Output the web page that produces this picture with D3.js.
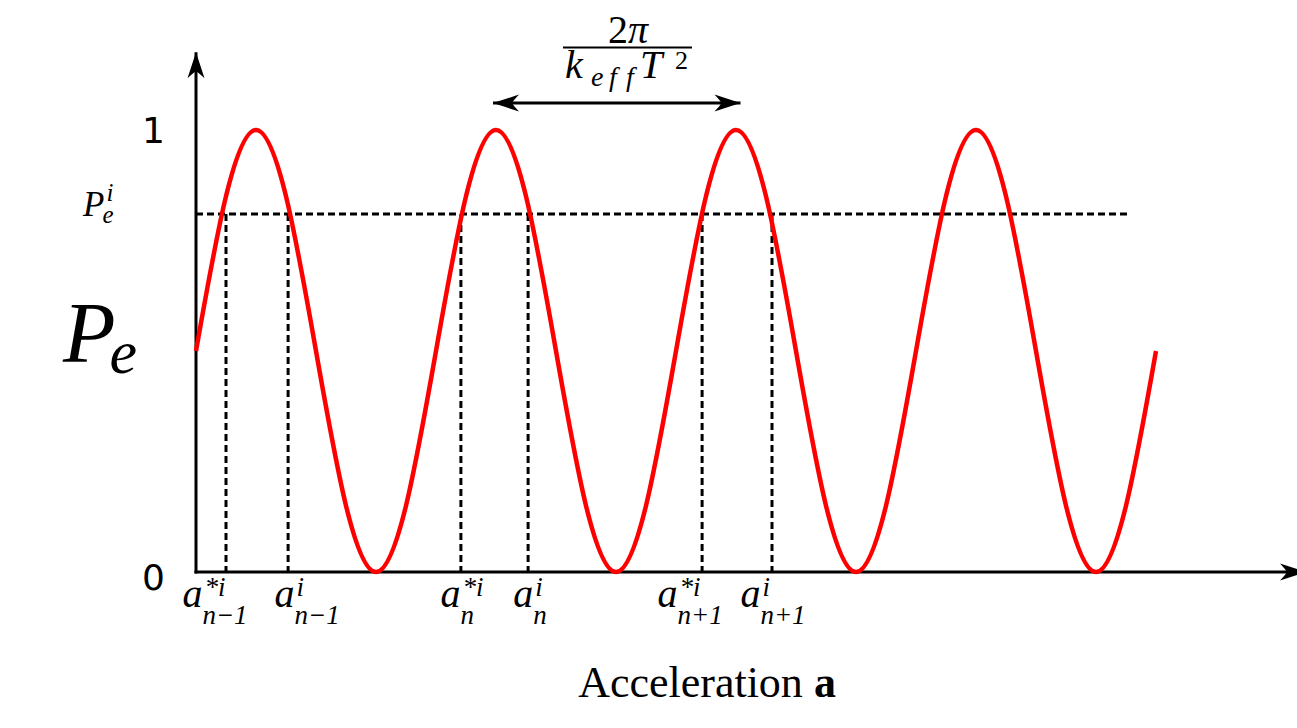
<!DOCTYPE html>
<html>
<head>
<meta charset="utf-8">
<script src="https://cdn.jsdelivr.net/npm/d3@7"></script>
<style>
  body { margin: 0; background: #ffffff; }
  svg { display: block; }
  .math { font-family: "Liberation Serif", "DejaVu Serif", serif; font-style: italic; fill: #000; }
  .rm { font-family: "Liberation Serif", "DejaVu Serif", serif; fill: #000; }
  .tick { font-family: "DejaVu Sans", sans-serif; fill: #000; }
</style>
</head>
<body>
<div id="chart"></div>
<script>
// acceleration (arbitrary units, one fringe = 8 units) and transition probability
var accel = [0, 1, 2, 3, 4, 5, 6, 7, 8, 9, 10, 11, 12, 13, 14, 15, 16,
             17, 18, 19, 20, 21, 22, 23, 24, 25, 26, 27, 28, 29, 30, 31, 32];
var pe = [0.5, 0.85, 1, 0.85, 0.5, 0.15, 0, 0.15,
          0.5, 0.85, 1, 0.85, 0.5, 0.15, 0, 0.15,
          0.5, 0.85, 1, 0.85, 0.5, 0.15, 0, 0.15,
          0.5, 0.85, 1, 0.85, 0.5, 0.15, 0, 0.15, 0.5];

// measured level and the accelerations where it is crossed
var levelPe = 0.81;
var levelEnd = 31.1;
var crossings = [1.0, 3.07, 8.83, 11.07, 16.87, 19.2];
var crossSup = ["*i", "i", "*i", "i", "*i", "i"];
var crossSub = ["n\u22121", "n\u22121", "n", "n", "n+1", "n+1"];

// period arrow (peak to peak)
var periodArrow = [9.9, 18.15];
var periodArrowPe = 1.061;

var yTicks = [0, 1];
var xMax = 37;
var yMax = 1.176;

var W = 1297, H = 728;
var x0 = 196, y0 = 572;
var svg = d3.select("#chart").append("svg").attr("width", W).attr("height", H);

var xscale = d3.scaleLinear().domain([0, 32]).range([x0, 1156]);
var yscale = d3.scaleLinear().domain([0, 1]).range([y0, 130]);

var defs = svg.append("defs");
defs.append("marker").attr("id", "head")
    .attr("markerUnits", "userSpaceOnUse")
    .attr("viewBox", "-28 -10 30 20")
    .attr("refX", 0).attr("refY", 0)
    .attr("markerWidth", 30).attr("markerHeight", 20)
    .attr("orient", "auto-start-reverse")
    .append("path")
    .attr("d", "M0,0 L-26,-8.5 Q-20,-2 -19,0 Q-20,2 -26,8.5 Z")
    .attr("fill", "#000");

// dashed guide lines
svg.append("line")
    .attr("x1", xscale(0)).attr("x2", xscale(levelEnd))
    .attr("y1", yscale(levelPe)).attr("y2", yscale(levelPe))
    .attr("stroke", "#000").attr("stroke-width", 3).attr("stroke-dasharray", "7,4");

svg.selectAll("line.drop").data(crossings).enter().append("line")
    .attr("class", "drop")
    .attr("x1", d => xscale(d)).attr("x2", d => xscale(d))
    .attr("y1", yscale(levelPe)).attr("y2", yscale(0))
    .attr("stroke", "#000").attr("stroke-width", 3).attr("stroke-dasharray", "7,4");

// axes with arrow heads
svg.append("line")
    .attr("x1", xscale(0)).attr("x2", xscale(0))
    .attr("y1", yscale(0) + 1.5).attr("y2", yscale(yMax))
    .attr("stroke", "#000").attr("stroke-width", 3).attr("marker-end", "url(#head)");
svg.append("line")
    .attr("x1", xscale(0) - 1.5).attr("x2", xscale(xMax))
    .attr("y1", yscale(0)).attr("y2", yscale(0))
    .attr("stroke", "#000").attr("stroke-width", 3).attr("marker-end", "url(#head)");

// the fringe
var line = d3.line()
    .x((d, i) => xscale(accel[i]))
    .y(d => yscale(d))
    .curve(d3.curveNatural);
svg.append("path").attr("d", line(pe))
    .attr("fill", "none").attr("stroke", "#ff0000").attr("stroke-width", 4.5);

// period arrow
svg.append("line")
    .attr("x1", xscale(periodArrow[0])).attr("x2", xscale(periodArrow[1]))
    .attr("y1", yscale(periodArrowPe)).attr("y2", yscale(periodArrowPe))
    .attr("stroke", "#000").attr("stroke-width", 3)
    .attr("marker-start", "url(#head)").attr("marker-end", "url(#head)");

// tick labels
svg.selectAll("text.tick").data(yTicks).enter().append("text")
    .attr("class", "tick")
    .attr("x", 165).attr("y", d => yscale(d) + (d === 0 ? 18 : 13))
    .attr("text-anchor", "end").attr("font-size", 36)
    .text(d => d);

// a labels under the axis
var nudge = [-11, 19, 0, 2, -12, 1];
crossings.forEach(function (c, i) {
    var g = svg.append("g");
    var base = g.append("text").attr("class", "math").attr("font-size", 40).attr("x", 0).attr("y", 0).text("a");
    var bw = base.node().getComputedTextLength();
    var sup = g.append("text").attr("class", "math").attr("font-size", 27).attr("x", bw + 2).attr("y", -11).text(crossSup[i]);
    var sub = g.append("text").attr("class", "math").attr("font-size", 27).attr("x", bw).attr("y", 17).text(crossSub[i]);
    var w = bw + Math.max(sup.node().getComputedTextLength(), sub.node().getComputedTextLength());
    g.attr("transform", "translate(" + (xscale(c) - w / 2 + nudge[i]) + "," + 607 + ")");
});

// y label P_e^i at the level
var gl = svg.append("g").attr("transform", "translate(83," + 216 + ")");
var pl = gl.append("text").attr("class", "math").attr("font-size", 35).text("P");
var plw = pl.node().getComputedTextLength();
gl.append("text").attr("class", "math").attr("font-size", 25).attr("x", plw - 2).attr("y", 7).text("e");
gl.append("text").attr("class", "math").attr("font-size", 25).attr("x", plw + 2).attr("y", -15).text("i");

// big P_e axis title
var gp = svg.append("g").attr("transform", "translate(63,362)");
var pb = gp.append("text").attr("class", "math").attr("font-size", 86).text("P");
var pbw = pb.node().getComputedTextLength();
gp.append("text").attr("class", "math").attr("font-size", 62).attr("x", pbw - 6).attr("y", 11).text("e");

// x title
var xt = svg.append("text").attr("class", "rm").attr("font-size", 44)
    .attr("x", 707).attr("y", 697).attr("text-anchor", "middle");
xt.append("tspan").text("Acceleration ");
xt.append("tspan").attr("font-weight", "bold").text("a");

// fraction 2pi / (k_eff T^2) above the period arrow
var fc = Math.round((xscale(periodArrow[0]) + xscale(periodArrow[1])) / 2) + 11;
var fr = svg.append("g").attr("transform", "translate(" + fc + ",0)");
var num = fr.append("text").attr("class", "rm").attr("font-size", 40).attr("x", 0).attr("y", 43).attr("text-anchor", "middle");
num.append("tspan").text("2");
num.append("tspan").attr("font-style", "italic").text("\u03c0");
fr.append("line").attr("x1", -65).attr("x2", 64).attr("y1", 47.5).attr("y2", 47.5)
    .attr("stroke", "#000").attr("stroke-width", 2);
fr.append("text").attr("class", "math").attr("font-size", 40).attr("x", -63).attr("y", 78).text("k");
fr.append("text").attr("class", "math").attr("font-size", 28).attr("x", -37).attr("y", 86).text("e");
fr.append("text").attr("class", "math").attr("font-size", 28).attr("x", -19).attr("y", 86).text("f");
fr.append("text").attr("class", "math").attr("font-size", 28).attr("x", -2).attr("y", 86).text("f");
fr.append("text").attr("class", "math").attr("font-size", 40).attr("x", 12).attr("y", 78).text("T");
fr.append("text").attr("class", "rm").attr("font-size", 26).attr("x", 47).attr("y", 69).text("2");
</script>
</body>
</html>
